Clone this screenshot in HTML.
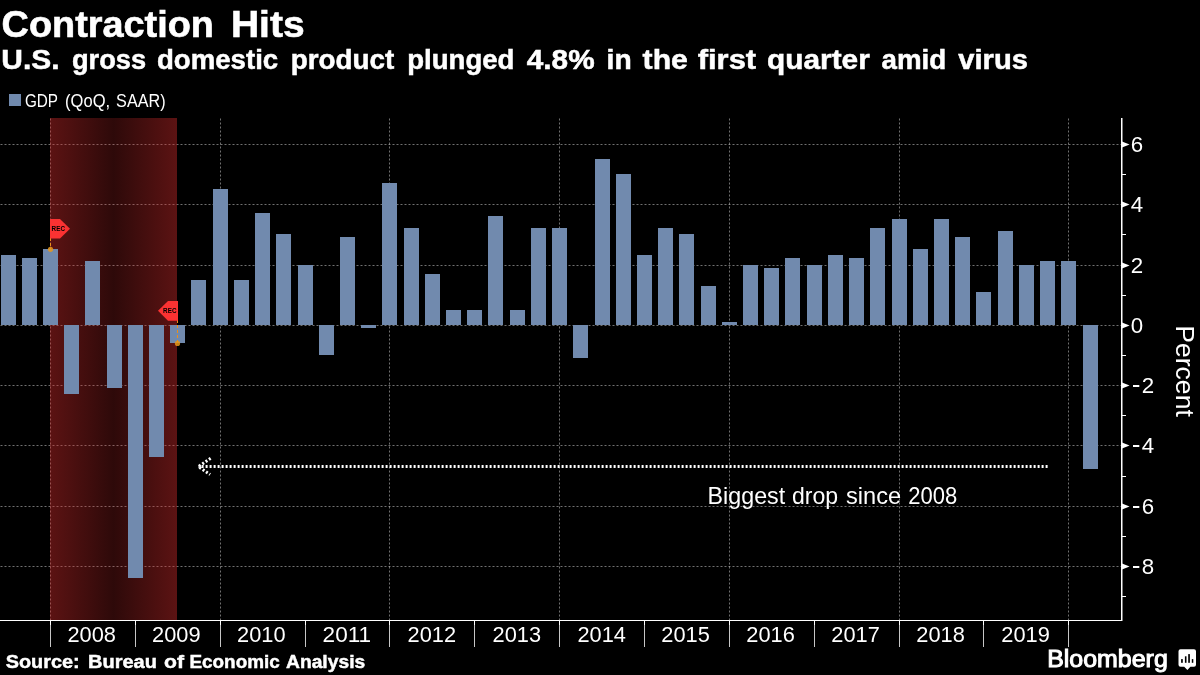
<!DOCTYPE html>
<html><head><meta charset="utf-8"><title>Contraction Hits</title>
<style>
html,body{margin:0;padding:0;background:#000;}
body{width:1200px;height:675px;overflow:hidden;font-family:"Liberation Sans",sans-serif;}
svg{display:block;position:absolute;left:0;top:0;will-change:transform;}
text{font-family:"Liberation Sans",sans-serif;fill:#fff;}
</style></head><body>
<svg width="1200" height="675" viewBox="0 0 1200 675">
<defs>
<linearGradient id="rec" x1="0" x2="1" y1="0" y2="0">
<stop offset="0" stop-color="#cc2a2a" stop-opacity="0.45"/><stop offset="0.5" stop-color="#cc2a2a" stop-opacity="0.225"/><stop offset="1" stop-color="#cc2a2a" stop-opacity="0.45"/>
</linearGradient>
</defs>


<g stroke="#fff" stroke-opacity="0.44" stroke-width="1" stroke-dasharray="2 2" fill="none">
<line x1="0.5" y1="144.5" x2="1121" y2="144.5"/>
<line x1="0.5" y1="204.5" x2="1121" y2="204.5"/>
<line x1="0.5" y1="265.5" x2="1121" y2="265.5"/>
<line x1="0.5" y1="325.5" x2="1121" y2="325.5"/>
<line x1="0.5" y1="385.5" x2="1121" y2="385.5"/>
<line x1="0.5" y1="445.5" x2="1121" y2="445.5"/>
<line x1="0.5" y1="506.5" x2="1121" y2="506.5"/>
<line x1="0.5" y1="566.5" x2="1121" y2="566.5"/>
<line x1="50.5" y1="118.5" x2="50.5" y2="620"/>
<line x1="220.5" y1="118.5" x2="220.5" y2="620"/>
<line x1="389.5" y1="118.5" x2="389.5" y2="620"/>
<line x1="559.5" y1="118.5" x2="559.5" y2="620"/>
<line x1="729.5" y1="118.5" x2="729.5" y2="620"/>
<line x1="899.5" y1="118.5" x2="899.5" y2="620"/>
<line x1="1068.5" y1="118.5" x2="1068.5" y2="620"/>
</g>
<rect x="50" y="118" width="127" height="502" fill="url(#rec)"/>
<g fill="#718aae" shape-rendering="crispEdges">
<rect x="1" y="255" width="15" height="70"/>
<rect x="22" y="258" width="15" height="67"/>
<rect x="43" y="249" width="15" height="76"/>
<rect x="64" y="325" width="15" height="69"/>
<rect x="85" y="261" width="15" height="64"/>
<rect x="107" y="325" width="15" height="63"/>
<rect x="128" y="325" width="15" height="253"/>
<rect x="149" y="325" width="15" height="132"/>
<rect x="170" y="325" width="15" height="18"/>
<rect x="191" y="280" width="15" height="45"/>
<rect x="213" y="189" width="15" height="136"/>
<rect x="234" y="280" width="15" height="45"/>
<rect x="255" y="213" width="15" height="112"/>
<rect x="276" y="234" width="15" height="91"/>
<rect x="298" y="265" width="15" height="60"/>
<rect x="319" y="325" width="15" height="30"/>
<rect x="340" y="237" width="15" height="88"/>
<rect x="361" y="325" width="15" height="3"/>
<rect x="382" y="183" width="15" height="142"/>
<rect x="404" y="228" width="15" height="97"/>
<rect x="425" y="274" width="15" height="51"/>
<rect x="446" y="310" width="15" height="15"/>
<rect x="467" y="310" width="15" height="15"/>
<rect x="488" y="216" width="15" height="109"/>
<rect x="510" y="310" width="15" height="15"/>
<rect x="531" y="228" width="15" height="97"/>
<rect x="552" y="228" width="15" height="97"/>
<rect x="573" y="325" width="15" height="33"/>
<rect x="595" y="159" width="15" height="166"/>
<rect x="616" y="174" width="15" height="151"/>
<rect x="637" y="255" width="15" height="70"/>
<rect x="658" y="228" width="15" height="97"/>
<rect x="679" y="234" width="15" height="91"/>
<rect x="701" y="286" width="15" height="39"/>
<rect x="722" y="322" width="15" height="3"/>
<rect x="743" y="265" width="15" height="60"/>
<rect x="764" y="268" width="15" height="57"/>
<rect x="785" y="258" width="15" height="67"/>
<rect x="807" y="265" width="15" height="60"/>
<rect x="828" y="255" width="15" height="70"/>
<rect x="849" y="258" width="15" height="67"/>
<rect x="870" y="228" width="15" height="97"/>
<rect x="892" y="219" width="15" height="106"/>
<rect x="913" y="249" width="15" height="76"/>
<rect x="934" y="219" width="15" height="106"/>
<rect x="955" y="237" width="15" height="88"/>
<rect x="976" y="292" width="15" height="33"/>
<rect x="998" y="231" width="15" height="94"/>
<rect x="1019" y="265" width="15" height="60"/>
<rect x="1040" y="261" width="15" height="64"/>
<rect x="1061" y="261" width="15" height="64"/>
<rect x="1083" y="325" width="15" height="144"/>
</g>
<g shape-rendering="crispEdges">
<rect x="0" y="620" width="1122" height="1" fill="#fff"/>
<rect x="50" y="620" width="1" height="27" fill="#c6c6c6"/>
<rect x="50" y="620" width="1" height="5" fill="#fff"/>
<rect x="135" y="620" width="1" height="27" fill="#c6c6c6"/>
<rect x="135" y="620" width="1" height="5" fill="#fff"/>
<rect x="220" y="620" width="1" height="27" fill="#c6c6c6"/>
<rect x="220" y="620" width="1" height="5" fill="#fff"/>
<rect x="305" y="620" width="1" height="27" fill="#c6c6c6"/>
<rect x="305" y="620" width="1" height="5" fill="#fff"/>
<rect x="389" y="620" width="1" height="27" fill="#c6c6c6"/>
<rect x="389" y="620" width="1" height="5" fill="#fff"/>
<rect x="474" y="620" width="1" height="27" fill="#c6c6c6"/>
<rect x="474" y="620" width="1" height="5" fill="#fff"/>
<rect x="559" y="620" width="1" height="27" fill="#c6c6c6"/>
<rect x="559" y="620" width="1" height="5" fill="#fff"/>
<rect x="644" y="620" width="1" height="27" fill="#c6c6c6"/>
<rect x="644" y="620" width="1" height="5" fill="#fff"/>
<rect x="729" y="620" width="1" height="27" fill="#c6c6c6"/>
<rect x="729" y="620" width="1" height="5" fill="#fff"/>
<rect x="814" y="620" width="1" height="27" fill="#c6c6c6"/>
<rect x="814" y="620" width="1" height="5" fill="#fff"/>
<rect x="899" y="620" width="1" height="27" fill="#c6c6c6"/>
<rect x="899" y="620" width="1" height="5" fill="#fff"/>
<rect x="983" y="620" width="1" height="27" fill="#c6c6c6"/>
<rect x="983" y="620" width="1" height="5" fill="#fff"/>
<rect x="1068" y="620" width="1" height="27" fill="#c6c6c6"/>
<rect x="1068" y="620" width="1" height="5" fill="#fff"/>
</g>
<rect x="1121" y="118" width="1.5" height="503" fill="#fff"/>
<path d="M1122 141.4 L1129.6 144.5 L1122 147.6 Z" fill="#fff"/>
<text x="1130.7" y="152.4" font-size="22.4" textLength="12.4" lengthAdjust="spacingAndGlyphs">6</text>
<path d="M1122 201.4 L1129.6 204.5 L1122 207.6 Z" fill="#fff"/>
<text x="1130.7" y="212.4" font-size="22.4" textLength="12.4" lengthAdjust="spacingAndGlyphs">4</text>
<path d="M1122 262.4 L1129.6 265.5 L1122 268.6 Z" fill="#fff"/>
<text x="1130.7" y="273.4" font-size="22.4" textLength="12.4" lengthAdjust="spacingAndGlyphs">2</text>
<path d="M1122 322.4 L1129.6 325.5 L1122 328.6 Z" fill="#fff"/>
<text x="1130.7" y="333.4" font-size="22.4" textLength="12.4" lengthAdjust="spacingAndGlyphs">0</text>
<path d="M1122 382.4 L1129.6 385.5 L1122 388.6 Z" fill="#fff"/>
<rect x="1133" y="385.0" width="6.3" height="2" fill="#fff"/>
<text x="1141.7" y="393.4" font-size="22.4" textLength="12.4" lengthAdjust="spacingAndGlyphs">2</text>
<path d="M1122 442.4 L1129.6 445.5 L1122 448.6 Z" fill="#fff"/>
<rect x="1133" y="445.0" width="6.3" height="2" fill="#fff"/>
<text x="1141.7" y="453.4" font-size="22.4" textLength="12.4" lengthAdjust="spacingAndGlyphs">4</text>
<path d="M1122 503.4 L1129.6 506.5 L1122 509.6 Z" fill="#fff"/>
<rect x="1133" y="506.0" width="6.3" height="2" fill="#fff"/>
<text x="1141.7" y="514.4" font-size="22.4" textLength="12.4" lengthAdjust="spacingAndGlyphs">6</text>
<path d="M1122 563.4 L1129.6 566.5 L1122 569.6 Z" fill="#fff"/>
<rect x="1133" y="566.0" width="6.3" height="2" fill="#fff"/>
<text x="1141.7" y="574.4" font-size="22.4" textLength="12.4" lengthAdjust="spacingAndGlyphs">8</text>
<rect x="1122" y="174" width="4" height="1" fill="#fff"/>
<rect x="1122" y="234" width="4" height="1" fill="#fff"/>
<rect x="1122" y="295" width="4" height="1" fill="#fff"/>
<rect x="1122" y="355" width="4" height="1" fill="#fff"/>
<rect x="1122" y="415" width="4" height="1" fill="#fff"/>
<rect x="1122" y="476" width="4" height="1" fill="#fff"/>
<rect x="1122" y="536" width="4" height="1" fill="#fff"/>
<rect x="1122" y="596" width="4" height="1" fill="#fff"/>
<text x="67.5" y="642.2" font-size="22.6" textLength="48.5" lengthAdjust="spacingAndGlyphs">2008</text>
<text x="152.1" y="642.2" font-size="22.6" textLength="48.5" lengthAdjust="spacingAndGlyphs">2009</text>
<text x="237.1" y="642.2" font-size="22.6" textLength="48.5" lengthAdjust="spacingAndGlyphs">2010</text>
<text x="322.6" y="642.2" font-size="22.6" textLength="48.5" lengthAdjust="spacingAndGlyphs">2011</text>
<text x="407.6" y="642.2" font-size="22.6" textLength="48.5" lengthAdjust="spacingAndGlyphs">2012</text>
<text x="492.6" y="642.2" font-size="22.6" textLength="48.5" lengthAdjust="spacingAndGlyphs">2013</text>
<text x="577.5" y="642.2" font-size="22.6" textLength="48.5" lengthAdjust="spacingAndGlyphs">2014</text>
<text x="661.3" y="642.2" font-size="22.6" textLength="48.5" lengthAdjust="spacingAndGlyphs">2015</text>
<text x="746.3" y="642.2" font-size="22.6" textLength="48.5" lengthAdjust="spacingAndGlyphs">2016</text>
<text x="831.3" y="642.2" font-size="22.6" textLength="48.5" lengthAdjust="spacingAndGlyphs">2017</text>
<text x="916.3" y="642.2" font-size="22.6" textLength="48.5" lengthAdjust="spacingAndGlyphs">2018</text>
<text x="1001.3" y="642.2" font-size="22.6" textLength="48.5" lengthAdjust="spacingAndGlyphs">2019</text>
<text transform="translate(1176.1,325.2) rotate(90)" font-size="26.6" textLength="91.6" lengthAdjust="spacingAndGlyphs">Percent</text>
<rect x="9" y="94" width="12" height="12" fill="#718aae"/>
<text x="24.9" y="106.8" font-size="18.8" font-weight="normal" textLength="33.1" lengthAdjust="spacingAndGlyphs">GDP</text>
<text x="65.1" y="106.8" font-size="18.8" font-weight="normal" textLength="45.0" lengthAdjust="spacingAndGlyphs">(QoQ,</text>
<text x="116.1" y="106.8" font-size="18.8" font-weight="normal" textLength="49.5" lengthAdjust="spacingAndGlyphs">SAAR)</text>
<text x="1.6" y="36.9" font-size="37.5" font-weight="bold" textLength="212.3" lengthAdjust="spacingAndGlyphs" stroke="#fff" stroke-width="0.6">Contraction</text>
<text x="230.9" y="36.9" font-size="37.5" font-weight="bold" textLength="73.7" lengthAdjust="spacingAndGlyphs" stroke="#fff" stroke-width="0.6">Hits</text>
<text x="1.3" y="68.6" font-size="27" font-weight="bold" textLength="58.2" lengthAdjust="spacingAndGlyphs" stroke="#fff" stroke-width="0.5">U.S.</text>
<text x="71.9" y="68.6" font-size="27" font-weight="bold" textLength="74.2" lengthAdjust="spacingAndGlyphs" stroke="#fff" stroke-width="0.5">gross</text>
<text x="157.0" y="68.6" font-size="27" font-weight="bold" textLength="121.2" lengthAdjust="spacingAndGlyphs" stroke="#fff" stroke-width="0.5">domestic</text>
<text x="290.7" y="68.6" font-size="27" font-weight="bold" textLength="103.6" lengthAdjust="spacingAndGlyphs" stroke="#fff" stroke-width="0.5">product</text>
<text x="407.3" y="68.6" font-size="27" font-weight="bold" textLength="107.1" lengthAdjust="spacingAndGlyphs" stroke="#fff" stroke-width="0.5">plunged</text>
<text x="526.8" y="68.6" font-size="27" font-weight="bold" textLength="67.8" lengthAdjust="spacingAndGlyphs" stroke="#fff" stroke-width="0.5">4.8%</text>
<text x="606.6" y="68.6" font-size="27" font-weight="bold" textLength="25.1" lengthAdjust="spacingAndGlyphs" stroke="#fff" stroke-width="0.5">in</text>
<text x="642.6" y="68.6" font-size="27" font-weight="bold" textLength="45.3" lengthAdjust="spacingAndGlyphs" stroke="#fff" stroke-width="0.5">the</text>
<text x="697.7" y="68.6" font-size="27" font-weight="bold" textLength="58.5" lengthAdjust="spacingAndGlyphs" stroke="#fff" stroke-width="0.5">first</text>
<text x="767.1" y="68.6" font-size="27" font-weight="bold" textLength="102.7" lengthAdjust="spacingAndGlyphs" stroke="#fff" stroke-width="0.5">quarter</text>
<text x="881.5" y="68.6" font-size="27" font-weight="bold" textLength="64.7" lengthAdjust="spacingAndGlyphs" stroke="#fff" stroke-width="0.5">amid</text>
<text x="958.3" y="68.6" font-size="27" font-weight="bold" textLength="69.7" lengthAdjust="spacingAndGlyphs" stroke="#fff" stroke-width="0.5">virus</text>
<text x="5.7" y="667.7" font-size="18.8" font-weight="bold" textLength="73.9" lengthAdjust="spacingAndGlyphs" stroke="#fff" stroke-width="0.45">Source:</text>
<text x="88.1" y="667.7" font-size="18.8" font-weight="bold" textLength="68.8" lengthAdjust="spacingAndGlyphs" stroke="#fff" stroke-width="0.45">Bureau</text>
<text x="164.1" y="667.7" font-size="18.8" font-weight="bold" textLength="20.0" lengthAdjust="spacingAndGlyphs" stroke="#fff" stroke-width="0.45">of</text>
<text x="189.4" y="667.7" font-size="18.8" font-weight="bold" textLength="90.4" lengthAdjust="spacingAndGlyphs" stroke="#fff" stroke-width="0.45">Economic</text>
<text x="286.0" y="667.7" font-size="18.8" font-weight="bold" textLength="79.2" lengthAdjust="spacingAndGlyphs" stroke="#fff" stroke-width="0.45">Analysis</text>
<text x="707.6" y="503.8" font-size="24.3" font-weight="normal" textLength="77.6" lengthAdjust="spacingAndGlyphs">Biggest</text>
<text x="792.0" y="503.8" font-size="24.3" font-weight="normal" textLength="46.1" lengthAdjust="spacingAndGlyphs">drop</text>
<text x="846.0" y="503.8" font-size="24.3" font-weight="normal" textLength="55.1" lengthAdjust="spacingAndGlyphs">since</text>
<text x="908.3" y="503.8" font-size="24.3" font-weight="normal" textLength="49.0" lengthAdjust="spacingAndGlyphs">2008</text>
<g stroke="#fff" stroke-width="3" stroke-dasharray="2 2" fill="none">
<path d="M1047.6 466.5 L198.5 466.5"/>
<path d="M210.6 458.3 L198.4 466.6 L210.1 474.55" stroke-linejoin="miter"/>
</g>
<g>
<line x1="50.5" y1="238" x2="50.5" y2="249" stroke="#ee8f18" stroke-width="1" stroke-dasharray="3 2"/>
<circle cx="50.5" cy="249.3" r="2.6" fill="#e8981c" fill-opacity="0.85"/>
<path d="M50 219 L60 219 L70 228.7 L60 238.5 L50 238.5 Z" fill="#fa3232"/>
<text x="51.5" y="230.9" font-size="6.3" font-weight="bold" style="fill:#000" textLength="13.6" lengthAdjust="spacing">REC</text>
<line x1="177.5" y1="320" x2="177.5" y2="343" stroke="#ee8f18" stroke-width="1" stroke-dasharray="3 2"/>
<circle cx="177.5" cy="343.4" r="2.6" fill="#e8981c" fill-opacity="0.85"/>
<path d="M178 301 L168 301 L158 310.8 L168 320.7 L178 320.7 Z" fill="#fa3232"/>
<text x="163" y="313.0" font-size="6.3" font-weight="bold" style="fill:#000" textLength="13.6" lengthAdjust="spacing">REC</text>
</g>
<text x="1047.2" y="666.6" font-size="23.3" stroke="#fff" stroke-width="1" textLength="120.6" lengthAdjust="spacingAndGlyphs">Bloomberg</text>
<path d="M1180.5 649.2 H1194 Q1196 649.2 1196 651.2 V664.7 Q1196 666.7 1194 666.7 H1190.4 L1187.4 670.1 L1184.2 666.7 H1180.5 Q1178.5 666.7 1178.5 664.7 V651.2 Q1178.5 649.2 1180.5 649.2 Z" fill="#fff"/>
<g fill="#000"><rect x="1181.1" y="659.1" width="1.7" height="3.7"/><rect x="1184.9" y="656.3" width="1.6" height="6.5"/><rect x="1188.2" y="654.1" width="1.7" height="8.7"/><rect x="1191.8" y="659.1" width="1.5" height="3.7"/></g>
</svg></body></html>
